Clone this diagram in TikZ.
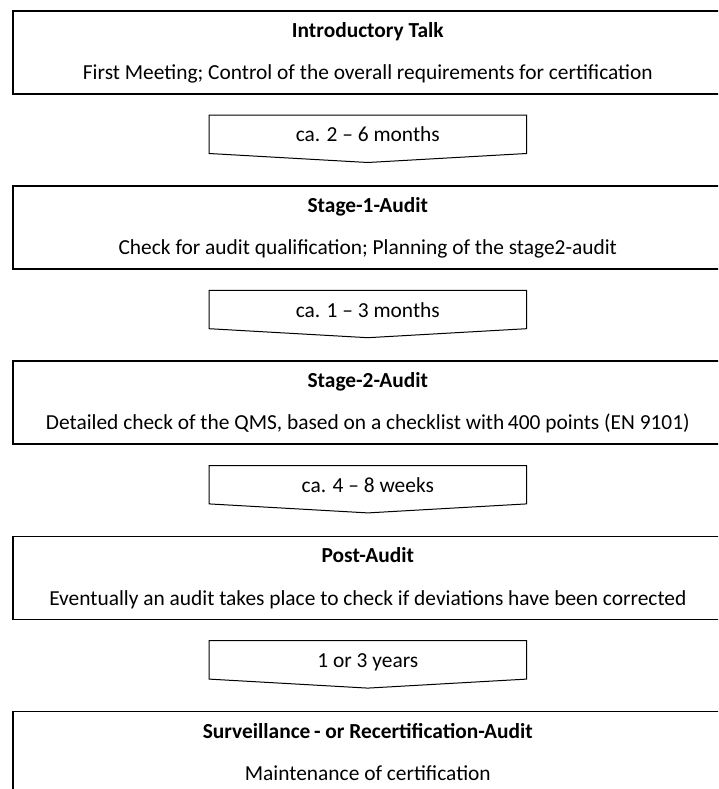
\documentclass[tikz,border=0pt]{standalone}
\usepackage{fontspec}
\setmainfont{Carlito}
\usetikzlibrary{calc}
\begin{document}
\begin{tikzpicture}[x=1pt,y=-1pt,
  stage/.style={draw, line width=1.6pt, minimum width=710pt, minimum height=83pt, inner sep=0pt, anchor=north west},
  ttl/.style={font=\bfseries\fontsize{21.4}{25}\selectfont, inner sep=0pt, anchor=base},
  desc/.style={font=\fontsize{21.4}{25}\selectfont, inner sep=0pt, anchor=base},
  lapse/.style={minimum width=317pt, minimum height=38pt, inner sep=0pt},
  lapsetext/.style={font=\fontsize{21.4}{25}\selectfont, inner sep=0pt, anchor=base},
  chevron/.style={draw, line width=1pt, line join=miter}]
\useasboundingbox (0,0) rectangle (718,789);
\clip (0,0) rectangle (718,789);
% stages
\node[stage] (b1) at (12,10) {};
\node[ttl]  (b1t) at ($(b1.north)+(0,27.3)$) {Introductory Talk};
\node[desc] (b1d) at ($(b1.north)+(0,69.5)$) {First Meeting; Control of the overall requirements for certification};
\node[stage] (b2) at (12,185.2) {};
\node[ttl]  (b2t) at ($(b2.north)+(0,27.3)$) {Stage-1-Audit};
\node[desc] (b2d) at ($(b2.north)+(0,69.5)$) {Check for audit qualification; Planning of the stage2-audit};
\node[stage] (b3) at (12,360.4) {};
\node[ttl]  (b3t) at ($(b3.north)+(0,27.3)$) {Stage-2-Audit};
\node[desc] (b3d) at ($(b3.north)+(0,69.5)$) {Detailed check of the QMS, based on a checklist with\,400 points (EN 9101)};
\node[stage] (b4) at (12,535.6) {};
\node[ttl]  (b4t) at ($(b4.north)+(0,27.3)$) {Post-Audit};
\node[desc] (b4d) at ($(b4.north)+(0,69.5)$) {Eventually an audit takes place to check if deviations have been corrected};
\node[stage] (b5) at (12,710.8) {};
\node[ttl]  (b5t) at ($(b5.north)+(0,27.3)$) {Surveillance\,- or Recertification-Audit};
\node[desc] (b5d) at ($(b5.north)+(0,69.5)$) {Maintenance of certification};
% lapses
\node[lapse] (a1) at ($(b1.north)+(0,124.3)$) {};
\node[lapse] (a2) at ($(b2.north)+(0,124.3)$) {};
\node[lapse] (a3) at ($(b3.north)+(0,124.3)$) {};
\node[lapse] (a4) at ($(b4.north)+(0,124.3)$) {};
\node[lapsetext] (l1) at ($(a1.north)+(0,26.7)$) {ca. 2 – 6 months};
\node[lapsetext] (l2) at ($(a2.north)+(0,26.7)$) {ca. 1 – 3 months};
\node[lapsetext] (l3) at ($(a3.north)+(0,26.7)$) {ca. 4 – 8 weeks};
\node[lapsetext] (l4) at ($(a4.north)+(0,26.7)$) {1 or 3 years};
\foreach \a in {a1,a2,a3,a4}{
  \draw[chevron] (\a.north west) -- (\a.north east) -- (\a.south east)
    -- ($(\a.south)+(0,9)$) -- (\a.south west) -- cycle;
}
\end{tikzpicture}
\end{document}
